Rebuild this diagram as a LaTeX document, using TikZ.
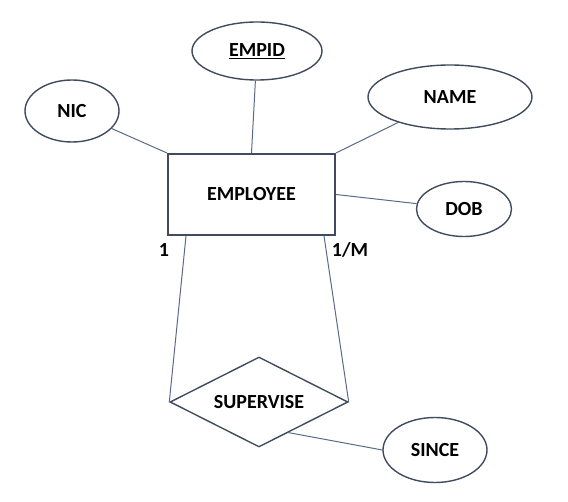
\documentclass[tikz,border=0pt]{standalone}
\usepackage{fontspec}
\setmainfont{Carlito}
\usepackage{xcolor}
\usetikzlibrary{shapes.geometric}
\definecolor{rand}{HTML}{414B5E}
\definecolor{linie}{HTML}{5A6A88}

\begin{document}
\begin{tikzpicture}[x=1pt,y=-1pt,
  entitaet/.style={rectangle, draw=rand, line width=2pt, minimum width=167pt, minimum height=81pt, font=\fontsize{20}{24}\selectfont\bfseries},
  attribut/.style={ellipse, draw=rand, line width=1.4pt, inner sep=0pt, font=\fontsize{20}{24}\selectfont\bfseries},
  beziehung/.style={diamond, aspect=2, draw=rand, line width=1.4pt, inner sep=0pt, minimum width=178pt, minimum height=90pt, font=\fontsize{20}{24}\selectfont\bfseries},
  verbindung/.style={draw=linie, line width=1pt},
  zahl/.style={font=\fontsize{20}{24}\selectfont\bfseries}]
\useasboundingbox (0,0) rectangle (568,502);
\node [entitaet] (emp) at (251.5,194.5){EMPLOYEE};
\node [attribut, minimum width=130pt, minimum height=58pt] (empid) at (257,51){\underline{EMPID}};
\node [attribut, minimum width=94pt, minimum height=62pt] (nic) at (72,111){NIC};
\node [attribut, minimum width=164pt, minimum height=64pt] (name) at (450,97){NAME};
\node [attribut, minimum width=95pt, minimum height=55pt] (dob) at (464,209){DOB};
\node [beziehung] (sup) at (259,402){SUPERVISE};
\node [attribut, minimum width=104pt, minimum height=65pt] (since) at (435,450){SINCE};
\node [zahl] (k1) at (164,250){1};
\node [zahl] (k2) at (350,250){1/M};
\draw [verbindung] (nic) -- (emp.north west);
\draw [verbindung] (empid) -- (emp.north);
\draw [verbindung] (name) -- (emp.north east);
\draw [verbindung] (emp.east) -- (dob);
\draw [verbindung] ([xshift=19pt]emp.south west) -- (sup.west);
\draw [verbindung] ([xshift=-12pt]emp.south east) -- (sup.east);
\draw [verbindung] (sup.-46) -- (since.west);
\end{tikzpicture}
\end{document}
